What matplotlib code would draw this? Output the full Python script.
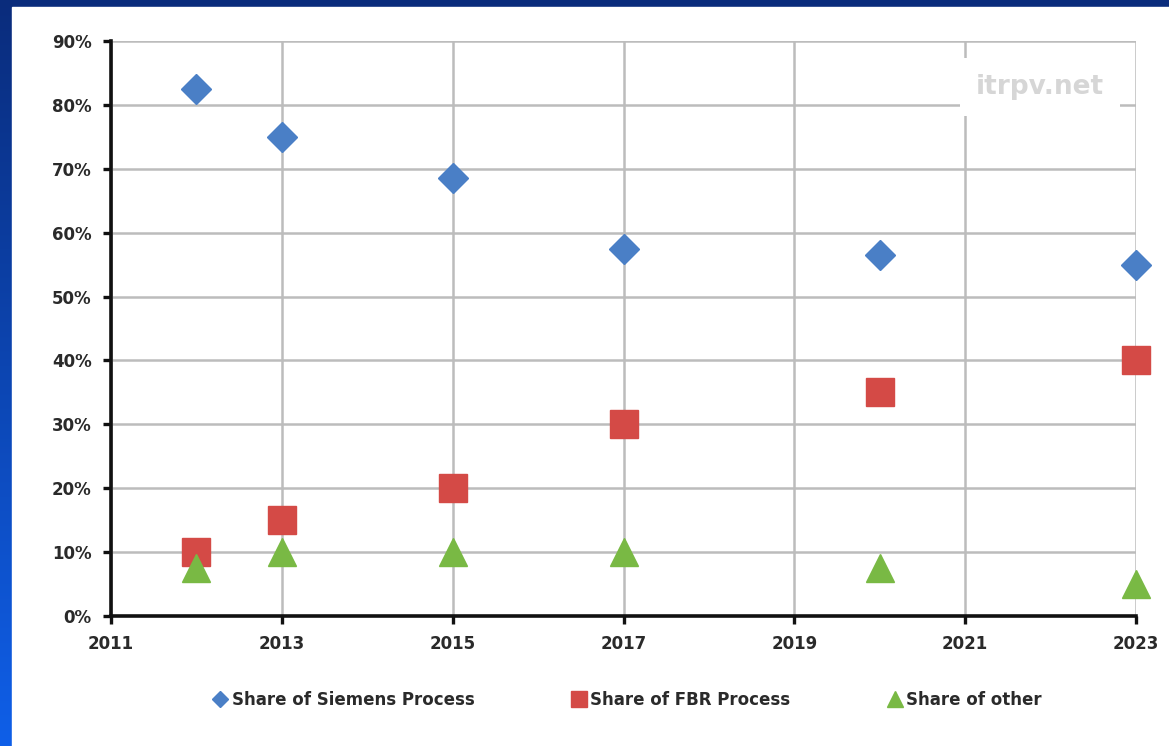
import numpy as np
import matplotlib
matplotlib.use("Agg")
import matplotlib.pyplot as plt
from matplotlib.lines import Line2D
from matplotlib.patches import Rectangle
from matplotlib.ticker import FuncFormatter, MultipleLocator

# Polysilicon production process shares
years = [2012, 2013, 2015, 2017, 2020, 2023]
siemens = [82.5, 75, 68.5, 57.5, 56.5, 55]
fbr = [10, 15, 20, 30, 35, 40]
other = [7.5, 10, 10, 10, 7.5, 5]
series_labels = ["Share of Siemens Process", "Share of FBR Process", "Share of other"]
x_ticks = [2011, 2013, 2015, 2017, 2019, 2021, 2023]

W, H = 1169, 746
fig = plt.figure(figsize=(W / 100, H / 100), dpi=100)

# Blue gradient frame behind a white panel
bg = fig.add_axes([0, 0, 1, 1], zorder=-10)
top = np.array([0x0a, 0x2c, 0x7c]) / 255
bot = np.array([0x0f, 0x5f, 0xe8]) / 255
t = np.linspace(0, 1, 256)[:, None]
grad = (top * (1 - t) + bot * t)[:, None, :].repeat(2, axis=1)
bg.imshow(grad, aspect="auto", extent=[0, 1, 0, 1], origin="upper")
bg.add_patch(Rectangle((12 / W, 0), 1, 1 - 7 / H, color="white", transform=bg.transAxes))
bg.set_xlim(0, 1)
bg.set_ylim(0, 1)
bg.axis("off")

ax = fig.add_axes([111 / W, 1 - 616 / H, (1136 - 111) / W, (616 - 41) / H])
ax.set_facecolor("none")
ax.set_xlim(2011, 2023)
ax.set_ylim(0, 90)
ax.set_xticks(x_ticks)
ax.yaxis.set_major_locator(MultipleLocator(10))
ax.yaxis.set_major_formatter(FuncFormatter(lambda v, p: f"{int(round(v))}%"))

ax.grid(True, color="#bcbcbc", linewidth=1.8)
ax.set_axisbelow(True)
for s in ("top", "right"):
    ax.spines[s].set_visible(False)
for s in ("left", "bottom"):
    ax.spines[s].set_linewidth(2.6)
    ax.spines[s].set_color("#111111")
ax.tick_params(axis="both", direction="out", length=6, width=2.4, color="#111111",
               labelsize=12, labelcolor="#2a2a2a", pad=8)
for lab in ax.get_xticklabels() + ax.get_yticklabels():
    lab.set_fontweight("bold")

blue, red, green = "#4a7fc6", "#d44a46", "#79b944"
ax.plot(years, siemens, "D", color=blue, ms=15, mec=blue, clip_on=False, zorder=3)
ax.plot(years, fbr, "s", color=red, ms=19.5, mec=red, clip_on=False, zorder=3)
ax.plot(years, other, "^", color=green, ms=19.5, mec=green, clip_on=False, zorder=4)

# Site watermark
ax.text(1040 / W, 1 - 87 / H, "itrpv.net", transform=fig.transFigure, ha="center", va="center",
        fontsize=19, fontweight="bold", color="#d6d6d6", zorder=5,
        bbox=dict(boxstyle="square,pad=0.6", fc="white", ec="none"))

handles = [
    Line2D([], [], ls="none", marker="D", color=blue, ms=8),
    Line2D([], [], ls="none", marker="s", color=red, ms=11),
    Line2D([], [], ls="none", marker="^", color=green, ms=11),
]
leg = fig.legend(handles, series_labels, loc="center", bbox_to_anchor=(628 / W, 1 - 700 / H),
                 ncol=3, frameon=False, handlelength=0.7, handletextpad=0.35,
                 columnspacing=5.9, prop=dict(size=12, weight="bold"))
for txt in leg.get_texts():
    txt.set_color("#2a2a2a")

fig.savefig("out.png", dpi=100)
